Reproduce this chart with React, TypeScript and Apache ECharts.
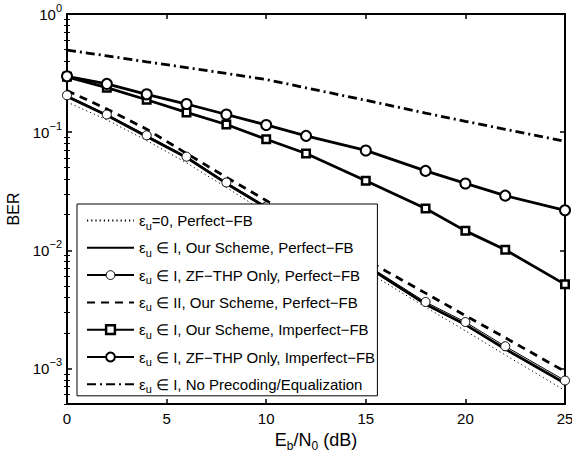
import React, { useEffect, useRef } from 'react';
import * as echarts from 'echarts';

const FONT = "'Liberation Sans', Arial, Helvetica, sans-serif";

// Eb/N0 (dB) sample points
const snrDb = [0, 2, 4, 6, 8, 10, 12, 15, 18, 20, 22, 25];

// BER values
const berZeroPerfect = [0.18, 0.127, 0.085, 0.055, 0.034, 0.0208, 0.0129, 0.0067, 0.0033, 0.00208, 0.0013, 0.00065];
const berOurPerfect = [0.2, 0.139, 0.092, 0.061, 0.0368, 0.023, 0.0145, 0.0074, 0.0035, 0.00235, 0.00146, 0.00075];
const berZfPerfect = [0.205, 0.141, 0.094, 0.062, 0.0375, 0.0235, 0.0148, 0.0076, 0.00365, 0.00247, 0.00154, 0.00079];
const berOurIIPerfect = [0.225, 0.157, 0.106, 0.066, 0.0415, 0.0264, 0.0166, 0.0083, 0.00434, 0.0028, 0.00182, 0.00094];
const berOurImperfect = [0.294, 0.238, 0.188, 0.147, 0.116, 0.087, 0.066, 0.0388, 0.0226, 0.0146, 0.0101, 0.00515];
const berZfImperfect = [0.297, 0.256, 0.209, 0.173, 0.141, 0.115, 0.093, 0.07, 0.047, 0.0368, 0.029, 0.0218];
const berNoPrecoding = [0.495, 0.442, 0.394, 0.352, 0.314, 0.279, 0.237, 0.186, 0.145, 0.1235, 0.1056, 0.0836];

const legendSuffixes = [
  '=0, Perfect\u2212FB',
  ' \u2208 I, Our Scheme, Perfect\u2212FB',
  ' \u2208 I, ZF\u2212THP Only, Perfect\u2212FB',
  ' \u2208 II, Our Scheme, Perfect\u2212FB',
  ' \u2208 I, Our Scheme, Imperfect\u2212FB',
  ' \u2208 I, ZF\u2212THP Only, Imperfect\u2212FB',
  ' \u2208 I, No Precoding/Equalization',
];
const seriesNames = legendSuffixes.map((s) => '\u03b5u' + s);

const xTicks = [0, 5, 10, 15, 20, 25];
const yMajorTicks = [0.001, 0.01, 0.1, 1];
const yMinorTicks = [
  0.0005, 0.0006, 0.0007, 0.0008, 0.0009,
  0.002, 0.003, 0.004, 0.005, 0.006, 0.007, 0.008, 0.009,
  0.02, 0.03, 0.04, 0.05, 0.06, 0.07, 0.08, 0.09,
  0.2, 0.3, 0.4, 0.5, 0.6, 0.7, 0.8, 0.9,
];

const Y_MIN = 0.0005;
const Y_MAX = 1;

export default function App() {
  const ref = useRef<HTMLDivElement>(null);

  useEffect(() => {
    if (!ref.current) return;
    const chart = echarts.init(ref.current, null, { renderer: 'svg' });

    const black = '#000';
    const W = 2.8;
    const mk = (i: number, data: number[], o: any) => ({
      type: 'line',
      name: seriesNames[i],
      xAxisIndex: 0,
      yAxisIndex: 0,
      data: snrDb.map((x, j) => [x, data[j]]),
      symbol: 'none',
      ...o,
    });

    const axisLine = { show: true, onZero: false, lineStyle: { color: black, width: 2 } };

    const yBase = {
      type: 'log',
      logBase: 10,
      min: Y_MIN,
      max: Y_MAX,
      splitLine: { show: false },
      minorTick: { show: false },
    };

    const legendItemStyles: any[] = [
      { opacity: 0 },
      { opacity: 0 },
      { color: '#fff', borderColor: black, borderWidth: 1 },
      { opacity: 0 },
      { color: '#fff', borderColor: black, borderWidth: 2.5 },
      { color: '#fff', borderColor: black, borderWidth: 2 },
      { opacity: 0 },
    ];

    const option: any = {
      animation: false,
      backgroundColor: '#fff',
      grid: { left: 67, top: 14, width: 498, height: 390, containLabel: false, outerBoundsMode: 'none' },
      xAxis: [
        {
          type: 'value',
          min: 0,
          max: 25,
          interval: 5,
          position: 'bottom',
          axisLine,
          axisTick: { inside: true, length: 5, customValues: xTicks, lineStyle: { color: black, width: 1.5 } },
          axisLabel: { color: black, fontSize: 15, fontFamily: FONT, margin: 7, customValues: xTicks },
          splitLine: { show: false },
          name: '{t|E}{s|b}{t|/N}{s|0}{t| (dB)}',
          nameLocation: 'middle',
          nameGap: 16,
          nameTextStyle: {
            color: black,
            fontFamily: FONT,
            fontSize: 18,
            rich: {
              t: { fontSize: 18, fontFamily: FONT, color: black, lineHeight: 24 },
              s: { fontSize: 12, fontFamily: FONT, color: black, lineHeight: 12, verticalAlign: 'bottom' },
            },
          },
        },
        {
          type: 'value',
          min: 0,
          max: 25,
          interval: 5,
          position: 'top',
          axisLine,
          axisTick: { inside: true, length: 5, customValues: xTicks, lineStyle: { color: black, width: 1.5 } },
          axisLabel: { show: false },
          splitLine: { show: false },
        },
      ],
      yAxis: [
        {
          ...yBase,
          position: 'left',
          axisLine,
          axisTick: { inside: true, length: 5, customValues: yMajorTicks, lineStyle: { color: black, width: 1.5 } },
          axisLabel: {
            customValues: yMajorTicks,
            margin: 5,
            formatter: (v: number) => {
              const e = Math.round(Math.log10(v));
              return '{b|10}{s|' + (e < 0 ? '\u2212' + -e : String(e)) + '}';
            },
            rich: {
              b: { fontSize: 15, fontFamily: FONT, color: black, lineHeight: 24 },
              s: { fontSize: 11, fontFamily: FONT, color: black, lineHeight: 11, verticalAlign: 'top' },
            },
          },
          name: 'BER',
          nameLocation: 'middle',
          nameGap: 43,
          nameTextStyle: { color: black, fontFamily: FONT, fontSize: 16 },
        },
        {
          ...yBase,
          position: 'left',
          axisLine: { show: false },
          axisTick: { inside: true, length: 3, customValues: yMinorTicks, lineStyle: { color: black, width: 1 } },
          axisLabel: { show: false },
        },
        {
          ...yBase,
          position: 'right',
          axisLine,
          axisTick: { inside: true, length: 5, customValues: yMajorTicks, lineStyle: { color: black, width: 1.5 } },
          axisLabel: { show: false },
        },
        {
          ...yBase,
          position: 'right',
          axisLine: { show: false },
          axisTick: { inside: true, length: 3, customValues: yMinorTicks, lineStyle: { color: black, width: 1 } },
          axisLabel: { show: false },
        },
      ],
      legend: {
        orient: 'vertical',
        left: 77,
        top: 204,
        padding: [9, 2, 1, 9],
        itemGap: 9.3,
        itemWidth: 47,
        itemHeight: 11,
        backgroundColor: '#fff',
        borderColor: black,
        borderWidth: 1,
        borderRadius: 0,
        selectedMode: false,
        data: seriesNames.map((n, i) => ({ name: n, itemStyle: legendItemStyles[i] })),
        formatter: (name: string) => {
          const i = seriesNames.indexOf(name);
          return '{t|\u03b5}{s|u}{t|' + legendSuffixes[i] + '}';
        },
        textStyle: {
          color: black,
          fontFamily: FONT,
          fontSize: 15,
          rich: {
            t: { fontSize: 15, fontFamily: FONT, color: black, lineHeight: 21 },
            s: { fontSize: 11, fontFamily: FONT, color: black, lineHeight: 11, verticalAlign: 'bottom' },
          },
        },
      },
      series: [
        mk(0, berZeroPerfect, {
          lineStyle: { color: black, width: 1, type: [1.2, 3] },
          itemStyle: { color: black },
        }),
        mk(1, berOurPerfect, {
          lineStyle: { color: black, width: W, type: 'solid' },
          itemStyle: { color: black },
        }),
        mk(2, berZfPerfect, {
          symbol: 'circle',
          symbolSize: 9,
          lineStyle: { color: black, width: 1 },
          itemStyle: { color: '#fff', borderColor: black, borderWidth: 1 },
        }),
        mk(3, berOurIIPerfect, {
          lineStyle: { color: black, width: W, type: [8, 6] },
          itemStyle: { color: black },
        }),
        mk(4, berOurImperfect, {
          symbol: 'rect',
          symbolSize: 7.5,
          lineStyle: { color: black, width: W },
          itemStyle: { color: '#fff', borderColor: black, borderWidth: 2.5 },
        }),
        mk(5, berZfImperfect, {
          symbol: 'circle',
          symbolSize: 10,
          lineStyle: { color: black, width: W },
          itemStyle: { color: '#fff', borderColor: black, borderWidth: 2 },
        }),
        mk(6, berNoPrecoding, {
          lineStyle: { color: black, width: W, type: [9, 4, 2, 4] },
          itemStyle: { color: black },
        }),
      ],
    };

    chart.setOption(option);
    return () => chart.dispose();
  }, []);

  return (
    <div
      ref={ref}
      style={{ position: 'fixed', left: 0, top: 0, width: 572, height: 458, background: '#fff' }}
    />
  );
}
